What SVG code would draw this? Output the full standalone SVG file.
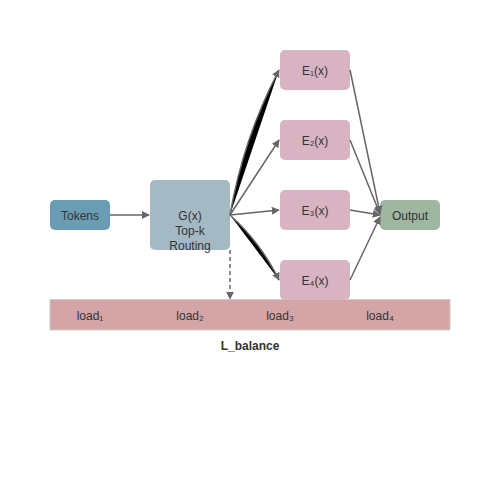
<svg xmlns="http://www.w3.org/2000/svg" width="500" height="500" viewBox="0 0 500 500">
<defs>
<marker id="arr" viewBox="0 0 10 10" refX="9" refY="5" markerWidth="8" markerHeight="8" markerUnits="userSpaceOnUse" orient="auto">
<path d="M0,0 L10,5 L0,10 z" fill="#666"/>
</marker>
<style>
.t{font-family:"Liberation Sans",Arial,sans-serif;font-size:12px;fill:#333;text-anchor:middle;dominant-baseline:central}
.c{stroke:#666;stroke-width:1.5;fill:none}
.w{stroke:#666;stroke-width:1.5;fill:#000}
.node{rx:5;ry:5}
</style>
</defs>
<rect width="500" height="500" fill="#fff"/>
<g id="loadbar">
<rect x="50" y="299.5" width="400" height="30.5" fill="#d4a5a6" stroke="#ccc" stroke-width="1"/>
<text class="t" x="90" y="316">load₁</text>
<text class="t" x="190" y="316">load₂</text>
<text class="t" x="280" y="316">load₃</text>
<text class="t" x="380" y="316">load₄</text>
</g>
<g id="tokens"><rect class="node" x="50" y="200" width="60" height="30" fill="#6a9db3"/><text class="t" x="80" y="216">Tokens</text></g>
<g id="gate"><rect class="node" x="150" y="180" width="80" height="70" fill="#a4b9c4"/><text class="t" x="190" y="216">G(x)</text><text class="t" x="190" y="231">Top-k</text><text class="t" x="190" y="246">Routing</text></g>
<g id="e1"><rect class="node" x="280" y="50" width="70" height="40" fill="#d8b3c2"/><text class="t" x="315" y="71">E₁(x)</text></g>
<g id="e2"><rect class="node" x="280" y="120" width="70" height="40" fill="#d8b3c2"/><text class="t" x="315" y="141">E₂(x)</text></g>
<g id="e3"><rect class="node" x="280" y="190" width="70" height="40" fill="#d8b3c2"/><text class="t" x="315" y="211">E₃(x)</text></g>
<g id="e4"><rect class="node" x="280" y="260" width="70" height="40" fill="#d8b3c2"/><text class="t" x="315" y="281">E₄(x)</text></g>
<g id="output"><rect class="node" x="380" y="200" width="60" height="30" fill="#9fb6a1"/><text class="t" x="410" y="216">Output</text></g>
<g id="connectors">
<path class="c" d="M110,215 L149,215" marker-end="url(#arr)"/>
<path class="w" d="M230,215 Q243,139 279,70" marker-end="url(#arr)"/>
<path class="c" d="M230,215 L279,140" marker-end="url(#arr)"/>
<path class="c" d="M230,215 L279,210" marker-end="url(#arr)"/>
<path class="w" d="M230,215 Q261,243 279,280" marker-end="url(#arr)"/>
<path class="c" d="M350,70 L380,213" marker-end="url(#arr)"/>
<path class="c" d="M350,140 L380,214" marker-end="url(#arr)"/>
<path class="c" d="M350,210 L380,215" marker-end="url(#arr)"/>
<path class="c" d="M350,280 L380,217" marker-end="url(#arr)"/>
<path class="c" d="M230,250 L230,299" stroke-dasharray="4,3" marker-end="url(#arr)"/>
</g>
<text x="250" y="346" font-family="'Liberation Sans',Arial,sans-serif" font-size="12" font-weight="bold" fill="#333" text-anchor="middle" dominant-baseline="central">L_balance</text>
</svg>
